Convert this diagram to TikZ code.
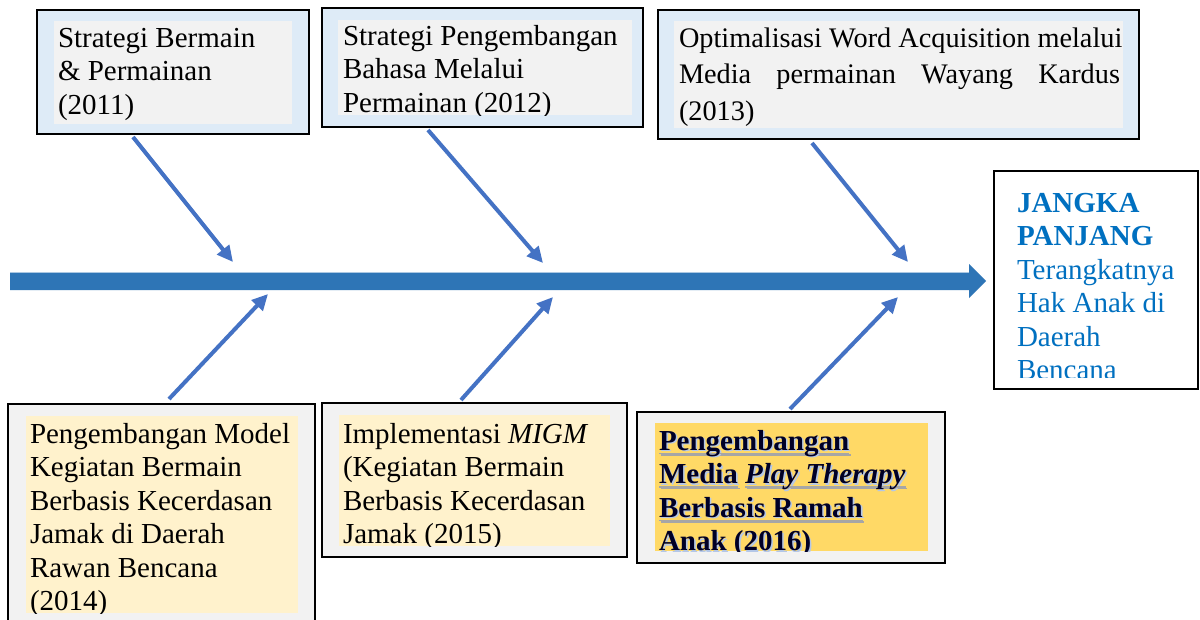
\documentclass[tikz,border=0pt]{standalone}
\usepackage{fontspec}
\setmainfont{Liberation Serif}
\usetikzlibrary{arrows.meta}
\definecolor{lblue}{HTML}{DEEBF7}
\definecolor{lgray}{HTML}{F2F2F2}
\definecolor{cream}{HTML}{FFF2CC}
\definecolor{gold}{HTML}{FFD966}
\definecolor{arrblue}{HTML}{4472C4}
\definecolor{mainblue}{HTML}{2E75B6}
\definecolor{txtblue}{HTML}{0070C0}
\definecolor{glow}{HTML}{B4C7E7}
\newsavebox\myulbox
\newcommand\myul[1]{\leavevmode\sbox\myulbox{#1}\rlap{\color{gray!70}\rule[-4pt]{\wd\myulbox}{1.2pt}}\usebox\myulbox\relax}
\newcommand\firststrut{\spaceskip=0pt \xspaceskip=0pt \rule{0pt}{23pt}}
\begin{document}
\begin{tikzpicture}[x=1pt,y=-1pt,
  outerbox/.style={draw=black, line width=2.5pt, anchor=north west, inner sep=0pt, outer sep=0pt},
  txt/.style={anchor=north west, inner sep=0pt, outer sep=0pt, align=left,
    font=\fontsize{29}{33.5}\selectfont, text width=#1},
  conn/.style={draw=arrblue, line width=4pt, -{Triangle[length=16pt,width=15pt]}}
]
\useasboundingbox (0,0) rectangle (1200,619);
\fill[white] (0,0) rectangle (1200,619);
\clip (0,0) rectangle (1200,619);

% ---------- top boxes ----------
\node[outerbox, fill=lblue, minimum width=272pt, minimum height=124pt] (b1) at (37,10) {};
\fill[lgray] (54,21) rectangle (292,124);
\begin{scope}
  \clip (54,21) rectangle (292,124);
  \node[txt=300pt] (t1) at (58,24) {\firststrut Strategi Bermain\\ \& Permainan\\ (2011)};
\end{scope}

\node[outerbox, fill=lblue, minimum width=321pt, minimum height=119pt] (b2) at (322,8) {};
\fill[lgray] (338,20) rectangle (632,115);
\begin{scope}
  \clip (338,20) rectangle (632,115);
  \node[txt=320pt] (t2) at (343,22) {\firststrut Strategi Pengembangan\\ Bahasa Melalui\\ Permainan (2012)};
\end{scope}

\node[outerbox, fill=lblue, minimum width=481pt, minimum height=129pt] (b3) at (658,10) {};
\fill[lgray] (674,21) rectangle (1123,128);
\begin{scope}
  \clip (674,21) rectangle (1123,128);
  \node[txt=470pt, font=\fontsize{28.3}{36.5}\selectfont] (t3) at (679,24)
    {\firststrut Optimalisasi Word Acquisition melalui\\
     \leavevmode\hbox to 441pt{Media\hfill permainan\hfill Wayang\hfill Kardus}\\ (2013)};
\end{scope}

% ---------- goal box ----------
\node[outerbox, fill=white, minimum width=204pt, minimum height=218pt] (b4) at (994,171) {};
\begin{scope}
  \clip (996,173) rectangle (1196,377.5);
  \node[txt=190pt, text=txtblue] (t4) at (1017,189)
    {\firststrut\textbf{JANGKA}\\ \textbf{PANJANG}\\ Terangkatnya\\ Hak Anak di\\ Daerah\\ Bencana};
\end{scope}

% ---------- bottom boxes ----------
\node[outerbox, fill=lgray, minimum width=307pt, minimum height=236pt] (b5) at (8,404) {};
\fill[cream] (26,416) rectangle (298,613);
\begin{scope}
  \clip (26,416) rectangle (298,613);
  \node[txt=300pt] (t5) at (30,420)
    {\firststrut Pengembangan Model\\ Kegiatan Bermain\\ Berbasis Kecerdasan\\ Jamak di Daerah\\ Rawan Bencana\\ (2014)};
\end{scope}

\node[outerbox, fill=lgray, minimum width=305pt, minimum height=154pt] (b6) at (322,403) {};
\fill[cream] (339,415) rectangle (610,546);
\begin{scope}
  \clip (339,415) rectangle (610,546);
  \node[txt=300pt] (t6) at (343,420)
    {\firststrut Implementasi \textit{MIGM}\\ (Kegiatan Bermain\\ Berbasis Kecerdasan\\ Jamak (2015)};
\end{scope}

\node[outerbox, fill=lgray, minimum width=308pt, minimum height=151pt] (b7) at (637,412) {};
\fill[gold] (655,423) rectangle (928,551);
\begin{scope}
  \clip (655,423) rectangle (928,551);
  \node[txt=300pt, font=\fontsize{29}{33.5}\selectfont\bfseries, text=glow] (t7s) at (660.6,428.6)
    {\firststrut \myul{Pengembangan}\\ \myul{Media} \myul{\textit{Play Therapy}}\\ \myul{Berbasis Ramah}\\ Anak (2016)};
  \node[txt=300pt, font=\fontsize{29}{33.5}\selectfont\bfseries, text=black!85!blue] (t7) at (659,427)
    {\firststrut \myul{Pengembangan}\\ \myul{Media} \myul{\textit{Play Therapy}}\\ \myul{Berbasis Ramah}\\ Anak (2016)};
\end{scope}

% ---------- main spine ----------
\fill[mainblue] (10,272) -- (969,272) -- (969,264) -- (986,281) -- (969,298) -- (969,290) -- (10,290) -- cycle;
\draw[white!60!mainblue, line width=0.8pt] (10,272) -- (969,272);

% ---------- connectors ----------
\coordinate (s1) at ([xshift=-40pt,yshift=-3pt]b1.south);
\coordinate (e1) at (233,262);
\coordinate (s2) at ([xshift=-54.5pt,yshift=-3pt]b2.south);
\coordinate (e2) at (543,263);
\coordinate (s3) at ([xshift=-86.5pt,yshift=-4pt]b3.south);
\coordinate (e3) at (908,262);
\coordinate (s5) at ([xshift=7.5pt,yshift=5pt]b5.north);
\coordinate (e5) at (268,294);
\coordinate (s6) at ([xshift=-13.5pt,yshift=3pt]b6.north);
\coordinate (e6) at (553,297);
\coordinate (s7) at ([xshift=-1pt,yshift=3pt]b7.north);
\coordinate (e7) at (898,297);

\draw[conn] (s1) -- (e1);
\draw[conn] (s2) -- (e2);
\draw[conn] (s3) -- (e3);
\draw[conn] (s5) -- (e5);
\draw[conn] (s6) -- (e6);
\draw[conn] (s7) -- (e7);
\end{tikzpicture}
\end{document}
